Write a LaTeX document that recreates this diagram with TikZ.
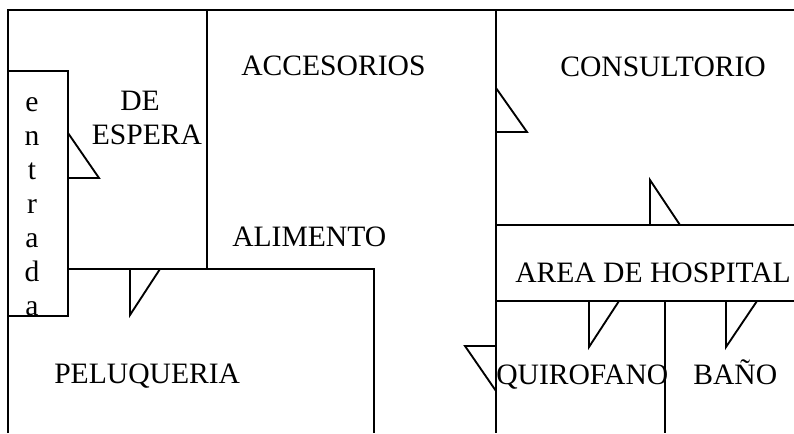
\documentclass[tikz,border=0pt]{standalone}
\usepackage{fontspec}
\setmainfont{Liberation Serif}
\tikzset{
  wall/.style={draw=black, line width=1.7pt},
  thinwall/.style={draw=black, line width=1.3pt},
  door/.style={draw=black, line width=1.4pt, line join=miter},
  room/.style={inner sep=0pt, anchor=base west, font=\fontsize{22.2}{25.5}\selectfont},
  stack/.style={inner sep=0pt, align=center, font=\fontsize{22.2}{25.5}\selectfont}
}
\begin{document}
\begin{tikzpicture}[x=0.75pt, y=-0.75pt]
       \useasboundingbox (0,0) rectangle (794,433);
       % outer walls
       \draw[wall] (8,433) -- (8,10) -- (794,10);
       \draw[wall] (207,10) -- (207,269);
       \draw[wall] (68,269) -- (374,269) -- (374,433);
       \draw[wall] (496,10) -- (496,433);
       % hospital
       \draw[thinwall] (496,225) -- (794,225);
       \draw[thinwall] (496,301) -- (794,301);
       \draw[thinwall] (665,301) -- (665,433);
       % entrance
       \draw[thinwall, fill=white] (8,71) rectangle (68,316);
       % doors
       \draw[door] (68,133) -- (99,178) -- (68,178);
       \draw[door] (130,269) -- (130,315) -- (160,269);
       \draw[door] (496,88) -- (527,132) -- (496,132);
       \draw[door] (650,225) -- (650,180) -- (680,225);
       \draw[door] (589,301) -- (589,347) -- (619,301);
       \draw[door] (726,301) -- (726,347) -- (757,301);
       \draw[door] (496,346) -- (465,346) -- (496,391);
       % rooms
       \node[stack] (entrada) at (32,207) {e\\n\\t\\r\\a\\d\\a};
       \node[stack] (espera) at (147,118) {DE\hspace*{10.5pt}\\ESPERA};
       \node[room] (accesorios) at (241,75) {ACCESORIOS};
       \node[room] (alimento) at (232,246) {ALIMENTO};
       \node[room] (peluqueria) at (54,383) {PELUQUERIA};
       \node[room] (consultorio) at (560,76) {CONSULTORIO};
       \node[room] (hospital) at (515,282) {AREA DE HOSPITAL};
       \node[room] (quirofano) at (496,384) {QUIROFANO};
       \node[room] (bano) at (693,384) {BAÑO};
\end{tikzpicture}
\end{document}
